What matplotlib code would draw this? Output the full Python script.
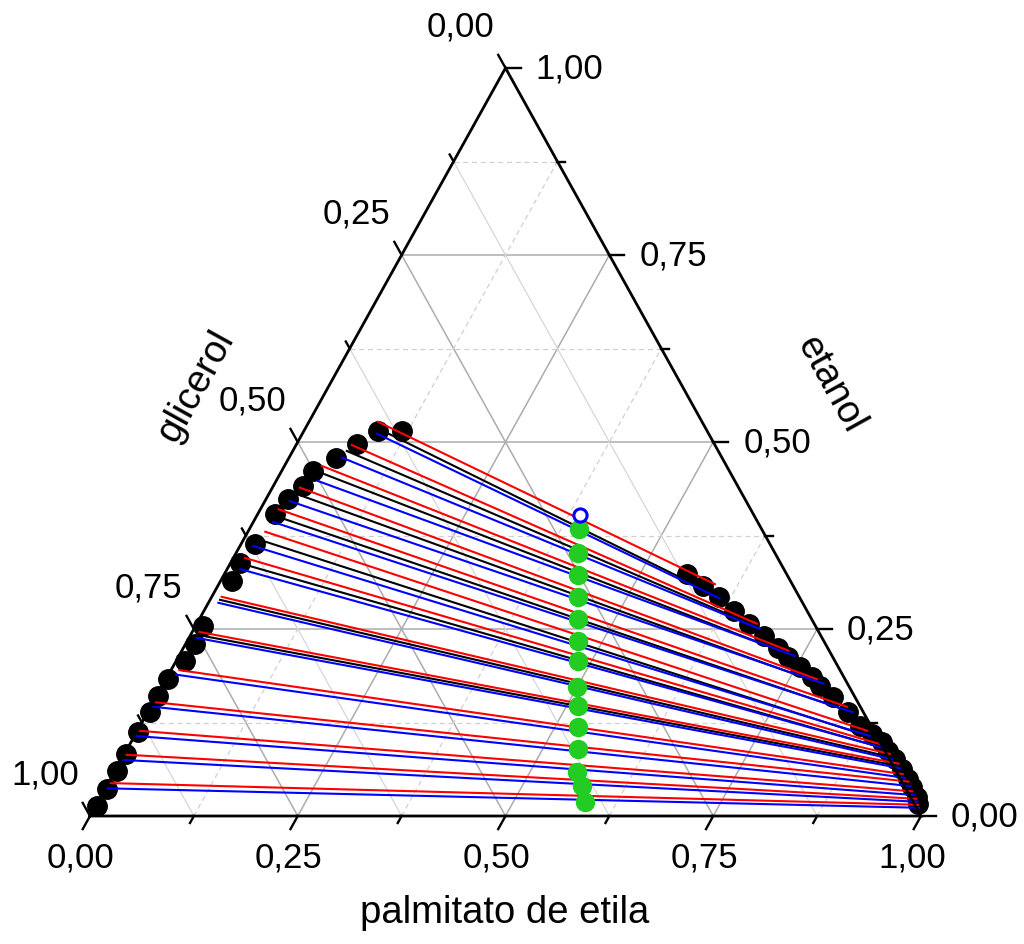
import matplotlib
matplotlib.use("Agg")
import matplotlib.pyplot as plt
import matplotlib.transforms as mtransforms
import numpy as np

plt.rcParams["font.family"] = ["Liberation Sans", "DejaVu Sans"]

# --- tie lines, given as (palmitato, etanol) mole fractions; glicerol = 1 - sum ---
# model 1 (red)
red_l_pal = [0.083, 0.067, 0.045, 0.033, 0.022, 0.021, 0.014, 0.012, 0.009, 0.010, 0.003, 0.001, 0.001, 0.002]
red_l_eta = [0.527, 0.496, 0.468, 0.439, 0.410, 0.380, 0.345, 0.293, 0.246, 0.195, 0.152, 0.114, 0.082, 0.044]
red_r_pal = [0.597, 0.674, 0.730, 0.783, 0.838, 0.878, 0.903, 0.921, 0.938, 0.950, 0.962, 0.973, 0.983, 0.989]
red_r_eta = [0.310, 0.257, 0.221, 0.183, 0.146, 0.114, 0.096, 0.083, 0.070, 0.056, 0.046, 0.033, 0.023, 0.015]

# model 2 (blue)
blue_l_pal = [0.090, 0.064, 0.050, 0.030, 0.024, 0.016, 0.016, 0.012, 0.010, 0.009, 0.003, 0.001, 0.001, 0.002]
blue_l_eta = [0.511, 0.479, 0.448, 0.421, 0.393, 0.361, 0.330, 0.285, 0.238, 0.189, 0.146, 0.107, 0.075, 0.037]
blue_r_pal = [0.612, 0.681, 0.741, 0.794, 0.848, 0.885, 0.909, 0.927, 0.943, 0.955, 0.967, 0.978, 0.986, 0.992]
blue_r_eta = [0.291, 0.250, 0.214, 0.177, 0.139, 0.107, 0.091, 0.076, 0.064, 0.051, 0.040, 0.028, 0.019, 0.011]

# experimental tie lines (black)
exp_l_pal = [0.090, 0.065, 0.048, 0.032, 0.023, 0.017, 0.015, 0.012, 0.009]
exp_l_eta = [0.517, 0.488, 0.459, 0.431, 0.401, 0.370, 0.337, 0.289, 0.242]
exp_r_pal = [0.581, 0.666, 0.720, 0.779, 0.834, 0.879, 0.905, 0.923, 0.939]
exp_r_eta = [0.306, 0.257, 0.221, 0.181, 0.143, 0.108, 0.092, 0.079, 0.067]

# experimental phase compositions
glic_phase_pal = [0.118, 0.089, 0.073, 0.057, 0.038, 0.036, 0.026, 0.021, 0.016, 0.011, 0.014,
                  0.009, 0.011, 0.011, 0.002, 0.002, 0.003, 0.002, 0.002, 0.002, 0.003, 0.002]
glic_phase_eta = [0.515, 0.515, 0.497, 0.479, 0.461, 0.441, 0.424, 0.404, 0.364, 0.338, 0.314,
                  0.254, 0.230, 0.207, 0.183, 0.160, 0.139, 0.112, 0.083, 0.060, 0.036, 0.013]
ester_phase_pal = [0.557, 0.584, 0.611, 0.638, 0.664, 0.690, 0.716, 0.734, 0.755, 0.776, 0.792, 0.815,
                   0.843, 0.866, 0.886, 0.904, 0.917, 0.931, 0.946, 0.959, 0.970, 0.983, 0.988]
ester_phase_eta = [0.324, 0.308, 0.293, 0.274, 0.257, 0.241, 0.225, 0.213, 0.199, 0.186, 0.174, 0.159,
                   0.139, 0.120, 0.110, 0.099, 0.087, 0.076, 0.063, 0.050, 0.039, 0.025, 0.016]

# global (feed) compositions
feed_pal = [0.397, 0.411, 0.426, 0.441, 0.456, 0.470, 0.484, 0.500, 0.514, 0.528, 0.542, 0.557, 0.572, 0.586]
feed_eta = [0.384, 0.352, 0.322, 0.293, 0.263, 0.234, 0.207, 0.173, 0.147, 0.119, 0.090, 0.059, 0.040, 0.019]
plait_pal = [0.389]
plait_eta = [0.402]

ticks_major = [0.0, 0.25, 0.5, 0.75, 1.0]
ticks_minor = [0.125, 0.375, 0.625, 0.875]


def tern(pal, eta):
    pal = np.asarray(pal, dtype=float)
    eta = np.asarray(eta, dtype=float)
    return pal + eta / 2.0, eta


W, H = 1024, 945
fig = plt.figure(figsize=(W / 100, H / 100), dpi=100)
ax = fig.add_axes([90 / W, (H - 817) / H, 831 / W, 748 / H])
ax.set_xlim(0, 1)
ax.set_ylim(0, 1)
ax.axis("off")


def shifted(dx, dy):
    return ax.transData + mtransforms.ScaledTranslation(dx / 100, dy / 100, fig.dpi_scale_trans)


# grid
def grid_lines(values, **kw):
    for v in values:
        # etanol constant
        ax.plot([v / 2, 1 - v / 2], [v, v], **kw)
        # palmitato constant
        x, y = tern([v, v], [0, 1 - v])
        ax.plot(x, y, **kw)
        # glicerol constant
        x, y = tern([1 - v, 0], [0, 1 - v])
        ax.plot(x, y, **kw)


grid_lines([0.25, 0.5, 0.75], color="#acacac", lw=1.1, zorder=1)
for v in ticks_minor:
    ax.plot([v / 2, 1 - v / 2], [v, v], color="#d0d0d0", lw=0.9, ls=(0, (4, 3)), zorder=1)
    x, y = tern([v, v], [0, 1 - v])
    ax.plot(x, y, color="#d0d0d0", lw=0.9, ls=(0, (4, 3)), zorder=1)
    x, y = tern([1 - v, 0], [0, 1 - v])
    ax.plot(x, y, color="#d6d6d6", lw=0.9, zorder=1)

# frame
ax.plot([0, 1, 0.5, 0], [0, 0, 1, 0], color="black", lw=2.0, zorder=5,
        clip_on=False, solid_joinstyle="miter")

# ticks
edge_px = np.hypot(0.5 * 831, 748)
for vals, L in ((ticks_major, 15), (ticks_minor, 8)):
    for v in vals:
        # palmitato (bottom), ticks run down-left
        d = L / edge_px
        ax.plot([v, v - 0.5 * d], [0, -d], color="black", lw=1.7, clip_on=False, zorder=5)
        # etanol (right), horizontal ticks
        x0 = 1 - v / 2
        ax.plot([x0, x0 + L / 831], [v, v], color="black", lw=1.7, clip_on=False, zorder=5)
        # glicerol (left), ticks run up-left
        b = 1 - v
        ax.plot([b / 2, b / 2 - 0.5 * d], [b, b + d], color="black", lw=1.7, clip_on=False, zorder=5)

fs = 25
for v in ticks_major:
    s = f"{v:.2f}".replace(".", ",")
    ax.text(v, 0, s, transform=shifted(-9, -41), ha="center", va="center", fontsize=fs)
    ax.text(1 - v / 2, v, s, transform=shifted(30, 0), ha="left", va="center", fontsize=fs)
    b = 1 - v
    ax.text(b / 2, b, s, transform=shifted(-45, 42), ha="center", va="center", fontsize=fs)

fig.text(505 / W, 1 - 913 / H, "palmitato de etila", ha="center", va="center", fontsize=27.5)
fig.text(196 / W, 1 - 386 / H, "glicerol", ha="center", va="center", fontsize=27.5, rotation=61)
fig.text(830 / W, 1 - 385 / H, "etanol", ha="center", va="center", fontsize=27.5, rotation=-61)

# phase compositions
x, y = tern(glic_phase_pal, glic_phase_eta)
ax.plot(x, y, "o", color="black", ms=14, zorder=2, clip_on=False)
x, y = tern(ester_phase_pal, ester_phase_eta)
ax.plot(x, y, "o", color="black", ms=14, zorder=2, clip_on=False)

# tie lines
for lp, le, rp, re, c, z in (
    (exp_l_pal, exp_l_eta, exp_r_pal, exp_r_eta, "black", 3),
    (red_l_pal, red_l_eta, red_r_pal, red_r_eta, "red", 3.2),
    (blue_l_pal, blue_l_eta, blue_r_pal, blue_r_eta, "blue", 3.4),
):
    xl, yl = tern(lp, le)
    xr, yr = tern(rp, re)
    for i in range(len(xl)):
        ax.plot([xl[i], xr[i]], [yl[i], yr[i]], color=c, lw=1.5, zorder=z)

x, y = tern(feed_pal, feed_eta)
ax.plot(x, y, "o", color="#22cc22", ms=13, mec="#22cc22", zorder=6)
x, y = tern(plait_pal, plait_eta)
ax.plot(x, y, "o", mfc="white", mec="blue", mew=2.2, ms=9.5, zorder=6)

fig.savefig("out.png", dpi=100)
